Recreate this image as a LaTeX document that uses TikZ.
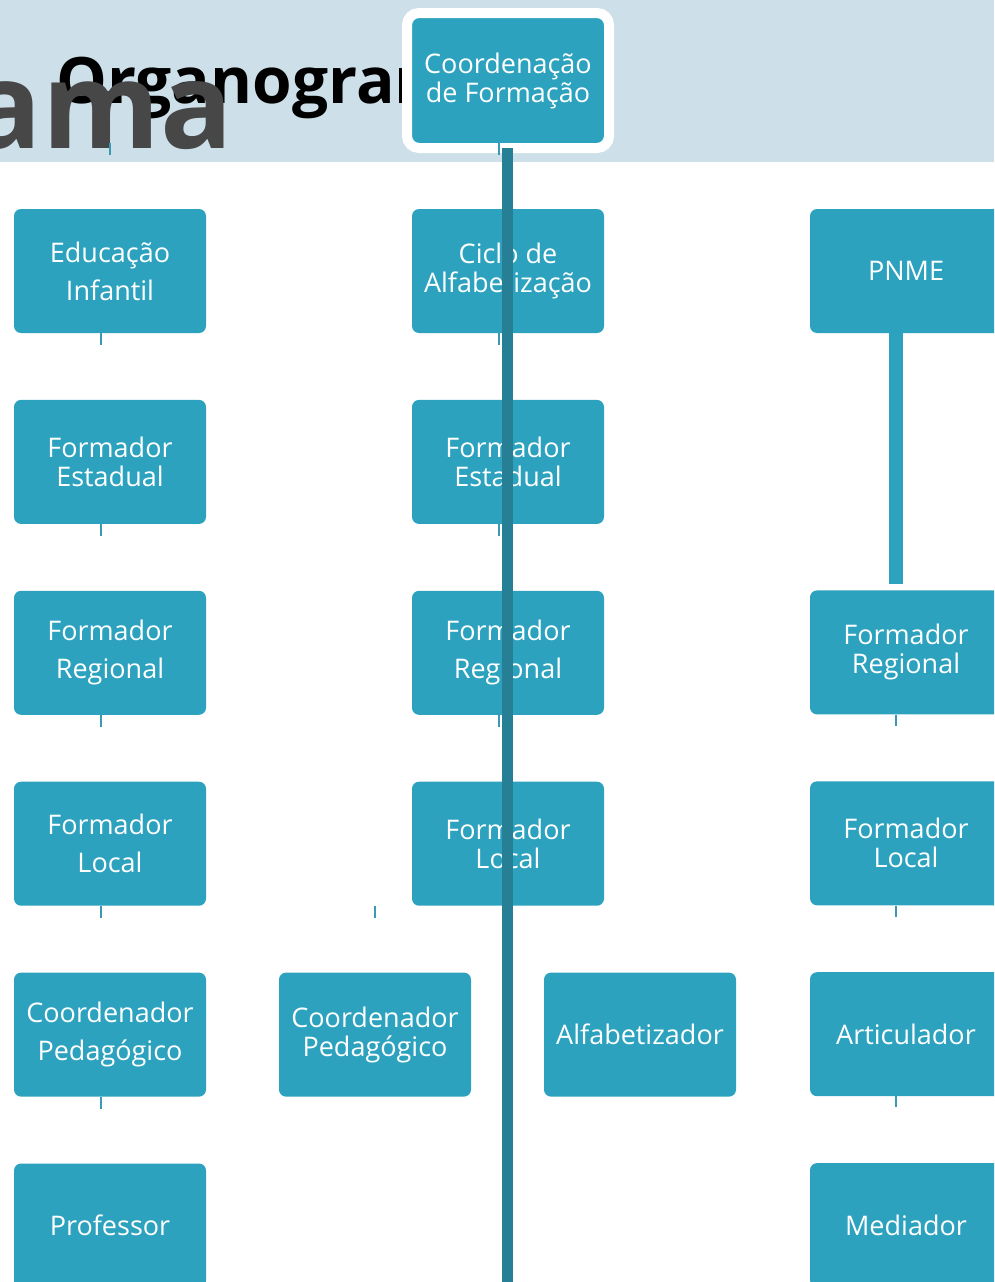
\documentclass[tikz,border=0pt]{standalone}
\usepackage{fontspec}
\setmainfont{Open Sans}
\usetikzlibrary{positioning}
\definecolor{orgblue}{RGB}{44,162,191}
\definecolor{orgdark}{RGB}{38,127,149}
\definecolor{orgband}{RGB}{205,223,232}
\definecolor{orggray}{RGB}{71,71,71}
\definecolor{orgstub}{RGB}{59,154,179}

\begin{document}
\begin{tikzpicture}[x=1pt, y=-1pt,
    box/.style={rectangle, fill=orgblue, text=white, minimum width=192pt,
        minimum height=124pt, rounded corners=7pt, align=center,
        font=\fontsize{27}{29}\selectfont},
    stub/.style={draw=orgstub, line width=1.4pt},
    spine/.style={draw=orgdark, line width=11pt},
    bar/.style={draw=orgblue, line width=14pt}]
\clip (0,0) rectangle (994,1282);
\fill[orgband] (0,0) rectangle (994,162);

% title, broken in two
\node[anchor=base west, inner sep=0pt, font=\fontsize{64}{64}\selectfont\bfseries] (title) at (56,103) {Organograma};
\node[anchor=base east, inner sep=0pt, text=orggray, font=\fontsize{120}{120}\selectfont\bfseries] (title2) at (233,148) {rama};

\node[box, draw=white, line width=10pt, outer sep=0pt, minimum width=202pt,
    minimum height=135pt, rounded corners=12pt] (coord) at (508,80.5) {Coordena\c{c}\~ao\\de Forma\c{c}\~ao};

% left column
\node[box] (edu) at (110,271) {Educa\c{c}\~ao\\[9pt]Infantil};
\node[box, below=66.5pt of edu]  (estL) {Formador\\Estadual};
\node[box, below=66.5pt of estL] (regL) {Formador\\[9pt]Regional};
\node[box, below=66.5pt of regL] (locL) {Formador\\[9pt]Local};
\node[box, below=66.5pt of locL] (cpL)  {Coordenador\\[9pt]Pedag\'ogico};
\node[box, below=66.5pt of cpL]  (prof) {Professor};

% middle column
\node[box] (ciclo) at (508,271) {Ciclo de\\Alfabetiza\c{c}\~ao};
\node[box, below=66.5pt of ciclo] (estM) {Formador\\Estadual};
\node[box, below=66.5pt of estM]  (regM) {Formador\\[9pt]Regional};
\node[box, below=66.5pt of regM]  (locM) {Formador\\Local};
\node[box, below=66.5pt of locM, xshift=-133pt] (cpM)  {Coordenador\\Pedag\'ogico};
\node[box, below=66.5pt of locM, xshift=132pt]  (alfa) {Alfabetizador};

% right column
\node[box] (pnme) at (906,271) {PNME};
\node[box, below=257pt of pnme]  (regR)  {Formador\\Regional};
\node[box, below=66.5pt of regR] (locR)  {Formador\\Local};
\node[box, below=66.5pt of locR] (artic) {Articulador};
\node[box, below=66.5pt of artic] (med)  {Mediador};

\foreach \n in {edu,estL,regL,locL,cpL,ciclo,estM,regM}
    \draw[stub] ([xshift=-9pt]\n.south) -- ++(0,12);
\foreach \n in {regR,locR,artic}
    \draw[stub] ([xshift=-10pt]\n.south) -- ++(0,11);
\draw[stub] (locM.south -| cpM.north) -- ++(0,12);
\draw[stub] ([yshift=66pt]edu.north) -- ++(0,12);
\draw[stub] ([xshift=-9pt,yshift=5pt]coord.south) -- ++(0,12);

\draw[bar] ([xshift=-10pt]pnme.south) -- ([xshift=-10pt,yshift=6pt]regR.north);
\coordinate (spineend) at (507.5,1290);
\draw[spine] ([xshift=-0.5pt]coord.south) -- (spineend);
\end{tikzpicture}
\end{document}
